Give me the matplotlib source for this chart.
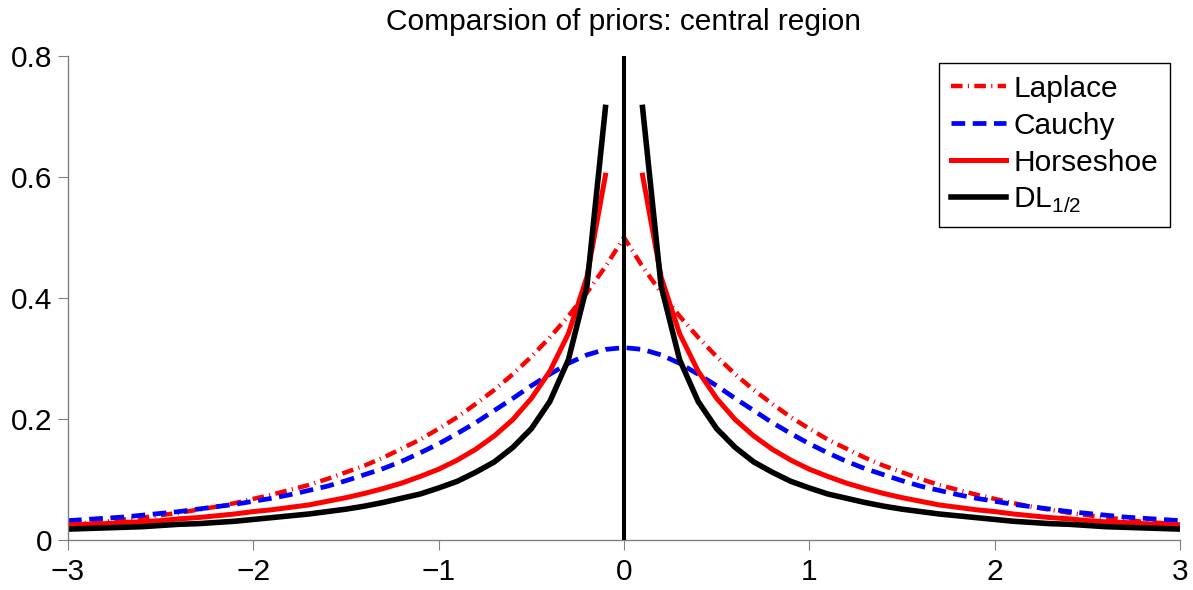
import numpy as np
import matplotlib
matplotlib.use('Agg')
import matplotlib.pyplot as plt

plt.rcParams['font.family'] = ['Liberation Sans', 'DejaVu Sans']
plt.rcParams['mathtext.fontset'] = 'custom'
plt.rcParams['mathtext.rm'] = 'Liberation Sans'

# densities at |x| = 0.1, 0.2, ..., 3.0 (curves are symmetric)
x_half = np.round(np.arange(1, 31) * 0.1, 1)

laplace_peak = 0.500
laplace_half = [0.452, 0.409, 0.370, 0.335, 0.303, 0.274, 0.248, 0.225, 0.203, 0.184,
                0.166, 0.151, 0.136, 0.123, 0.112, 0.101, 0.091, 0.083, 0.075, 0.068,
                0.061, 0.055, 0.050, 0.045, 0.041, 0.037, 0.034, 0.030, 0.028, 0.025]

cauchy_peak = 0.318
cauchy_half = [0.315, 0.306, 0.292, 0.274, 0.255, 0.234, 0.214, 0.194, 0.176, 0.159,
               0.144, 0.130, 0.118, 0.108, 0.098, 0.089, 0.082, 0.075, 0.069, 0.064,
               0.059, 0.055, 0.051, 0.047, 0.044, 0.041, 0.038, 0.036, 0.034, 0.032]

# horseshoe and DL are unbounded at 0, so nothing is drawn there
horseshoe_half = [0.603, 0.435, 0.341, 0.279, 0.234, 0.199, 0.172, 0.150, 0.132, 0.117,
                  0.105, 0.094, 0.085, 0.077, 0.070, 0.064, 0.058, 0.054, 0.050, 0.047,
                  0.043, 0.040, 0.037, 0.035, 0.032, 0.030, 0.029, 0.027, 0.026, 0.025]

dl_half = [0.715, 0.420, 0.298, 0.229, 0.184, 0.153, 0.129, 0.112, 0.097, 0.086,
           0.076, 0.069, 0.062, 0.056, 0.051, 0.047, 0.043, 0.040, 0.037, 0.034,
           0.031, 0.029, 0.027, 0.026, 0.024, 0.022, 0.021, 0.020, 0.019, 0.018]

xtick_vals = [-3, -2, -1, 0, 1, 2, 3]
xtick_labels = ['\u22123', '\u22122', '\u22121', '0', '1', '2', '3']
ytick_vals = [0, 0.2, 0.4, 0.6, 0.8]
ytick_labels = ['0', '0.2', '0.4', '0.6', '0.8']


def mirror(half, centre=np.nan):
    half = np.asarray(half, dtype=float)
    return np.concatenate([half[::-1], [centre], half])


x = np.concatenate([-x_half[::-1], [0.0], x_half])

fig = plt.figure(figsize=(11.93, 5.90), dpi=100)
ax = fig.add_axes([68 / 1193, 50 / 590, 1112 / 1193, 484 / 590])

ax.plot(x, mirror(laplace_half, laplace_peak), color='red', lw=3.2,
        dashes=(2.6, 1.2, 0.25, 1.2), label='Laplace')
ax.plot(x, mirror(cauchy_half, cauchy_peak), color='blue', lw=3.4,
        dashes=(2.9, 1.6), label='Cauchy')
ax.plot(x, mirror(horseshoe_half), color='red', lw=3.6, label='Horseshoe')
ax.plot(x, mirror(dl_half), color='black', lw=4.0, label=r'$\mathrm{DL}_{\mathrm{1/2}}$')
ax.axvline(0, color='black', lw=2.9, zorder=5)

ax.set_xlim(-3, 3)
ax.set_ylim(0, 0.8)
ax.set_xticks(xtick_vals)
ax.set_xticklabels(xtick_labels)
ax.set_yticks(ytick_vals)
ax.set_yticklabels(ytick_labels)

for side in ['top', 'right']:
    ax.spines[side].set_visible(False)
for side in ['left', 'bottom']:
    ax.spines[side].set_color('#808080')
    ax.spines[side].set_linewidth(1.0)
ax.tick_params(direction='out', length=7, width=0.8, color='#808080',
               labelsize=21.5, labelcolor='black')
ax.tick_params(axis='x', pad=6)
ax.tick_params(axis='y', pad=4)

ax.set_title('Comparsion of priors: central region', fontsize=21.5, pad=19)

leg = ax.legend(loc='upper right', bbox_to_anchor=(0.991, 0.986), borderaxespad=0,
                fontsize=21.5, frameon=True, fancybox=False, framealpha=1,
                edgecolor='black', handlelength=1.85, handletextpad=0.25,
                labelspacing=0.3, borderpad=0.4)
leg.get_frame().set_linewidth(1.0)

fig.savefig('out.png', dpi=100)
